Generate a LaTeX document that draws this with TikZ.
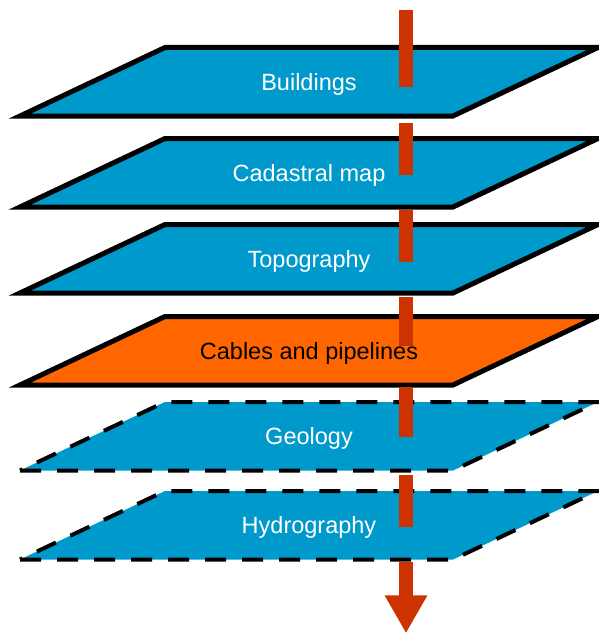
\documentclass[tikz,border=0pt]{standalone}
\usepackage{fontspec}
\setmainfont{Liberation Sans}
\usetikzlibrary{arrows.meta}
\definecolor{layerblue}{RGB}{0,153,204}
\definecolor{cableorange}{RGB}{255,102,0}
\definecolor{rodred}{RGB}{204,51,0}
\tikzset{
layer/.style = {draw=black, fill=layerblue, line width=5pt},% couche pleine
layer_c/.style = {layer, fill=cableorange},% couche des reseaux
layer_d/.style = {draw=black, fill=layerblue, line width=4pt, dash pattern=on 21pt off 16pt},% couche du sous-sol, en tirets
layertext/.style = {anchor=base, inner sep=0pt, font=\fontsize{23.5}{28}\selectfont},
rod/.style = {draw=rodred, line width=13.3pt}% axe de forage
}
\begin{document}
\begin{tikzpicture}[x=1pt,y=-1pt]
  \useasboundingbox (0,0) rectangle (599,634);
  \clip (0,0) rectangle (599,634);
  % couches
  \foreach \yt/\name/\txt/\sty/\col in {47.5/bld/Buildings/layer/white,
      138.5/cad/Cadastral map/layer/white,
      224.5/top/Topography/layer/white,
      316.5/cab/Cables and pipelines/layer_c/black,
      402/geo/Geology/layer_d/white,
      491/hyd/Hydrography/layer_d/white}{
    \draw[\sty] (20,\yt+68.5) -- (453,\yt+68.5) -- (598,\yt) -- (165,\yt) -- cycle;
    \node[layertext, text=\col] (\name) at (309,\yt+42.55) {\txt};
  }
  % axe
  \foreach \ya/\yb in {10/87.3, 122.7/175, 210/261.7, 297.3/346, 387.3/436.7, 475/527.3}
    \draw[rod] (406,\ya) -- (406,\yb);
  \draw[rod, -{Triangle[width=40pt,length=38pt]}] (406,562) -- (406,633.3);
\end{tikzpicture}
\end{document}
